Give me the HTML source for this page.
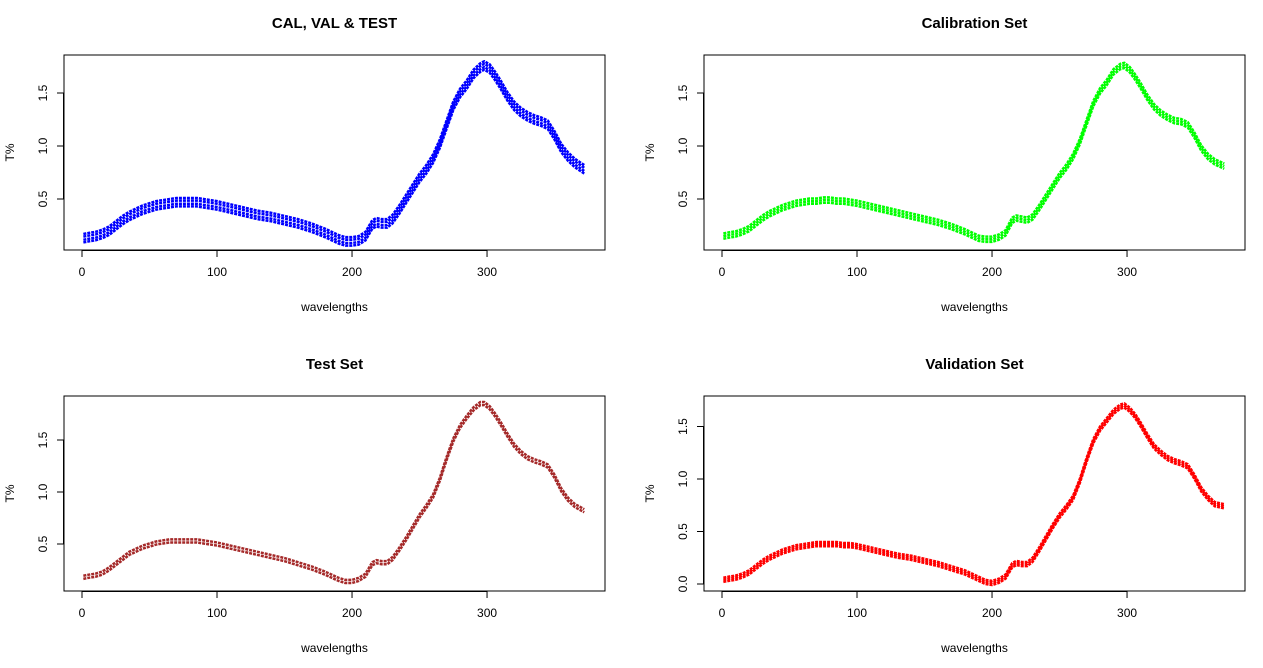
<!DOCTYPE html>
<html><head><meta charset="utf-8"><style>
body{margin:0;background:#fff;}
svg{display:block;font-family:"Liberation Sans",Arial,sans-serif;}
</style></head><body>
<svg id="c" width="1263" height="668"></svg>
<script>
const wl = [1,5,10,15,20,25,30,35,40,45,50,55,60,65,70,75,80,85,90,95,100,110,120,130,140,150,160,170,180,190,195,200,205,210,215,218,222,226,230,235,240,245,250,255,260,265,270,275,280,285,290,295,298,302,306,310,315,320,325,330,335,340,345,350,355,360,365,372];
const blueVals = [0.13,0.14,0.15,0.17,0.20,0.25,0.30,0.34,0.37,0.40,0.42,0.44,0.45,0.46,0.47,0.47,0.47,0.47,0.46,0.45,0.44,0.41,0.38,0.35,0.33,0.30,0.27,0.23,0.18,0.12,0.10,0.10,0.11,0.15,0.26,0.28,0.27,0.27,0.31,0.40,0.50,0.60,0.70,0.78,0.88,1.02,1.20,1.38,1.50,1.58,1.68,1.74,1.76,1.73,1.66,1.58,1.47,1.38,1.32,1.28,1.25,1.23,1.20,1.10,0.98,0.90,0.84,0.78];
const greenVals = [0.15,0.16,0.17,0.19,0.22,0.27,0.32,0.36,0.39,0.42,0.44,0.46,0.47,0.48,0.48,0.49,0.49,0.48,0.48,0.47,0.46,0.43,0.40,0.37,0.34,0.31,0.28,0.24,0.19,0.13,0.12,0.12,0.14,0.18,0.30,0.32,0.31,0.30,0.33,0.42,0.52,0.62,0.72,0.80,0.90,1.04,1.22,1.40,1.52,1.60,1.70,1.75,1.76,1.72,1.65,1.57,1.46,1.37,1.31,1.27,1.24,1.23,1.20,1.10,0.98,0.90,0.85,0.81];
const brownVals = [0.18,0.19,0.20,0.22,0.26,0.31,0.36,0.41,0.44,0.47,0.49,0.51,0.52,0.53,0.53,0.53,0.53,0.53,0.52,0.51,0.50,0.47,0.44,0.41,0.38,0.35,0.31,0.27,0.22,0.16,0.14,0.14,0.16,0.20,0.31,0.33,0.32,0.32,0.36,0.45,0.55,0.66,0.77,0.86,0.96,1.12,1.32,1.50,1.63,1.72,1.80,1.85,1.85,1.81,1.74,1.66,1.55,1.45,1.38,1.33,1.30,1.28,1.25,1.15,1.02,0.93,0.87,0.82];
const redVals = [0.04,0.05,0.06,0.08,0.11,0.16,0.21,0.25,0.28,0.31,0.33,0.35,0.36,0.37,0.38,0.38,0.38,0.38,0.37,0.37,0.36,0.33,0.30,0.27,0.25,0.22,0.19,0.15,0.11,0.05,0.02,0.01,0.03,0.07,0.18,0.20,0.19,0.19,0.23,0.33,0.44,0.55,0.65,0.73,0.82,0.98,1.18,1.36,1.48,1.56,1.64,1.69,1.70,1.66,1.60,1.52,1.41,1.31,1.25,1.20,1.17,1.15,1.12,1.02,0.90,0.82,0.76,0.74];
const xTicks = [0,100,200,300];
const yTicksA = [0.5,1.0,1.5];
const yTicksB = [0.0,0.5,1.0,1.5];

const svg = document.getElementById('c');
const NS = 'http://www.w3.org/2000/svg';
function mk(tag, attrs, parent){const e=document.createElementNS(NS,tag);for(const k in attrs)e.setAttribute(k,attrs[k]);(parent||svg).appendChild(e);return e;}

const panels = [
 {name:'cal-val-test', title:'CAL, VAL & TEST', vals:blueVals, color:'#0000ff', offs:[-0.04,-0.015,0.015,0.04], box:[64,55,605,250], y0:0.5, y0px:199, ypu:106, ticks:yTicksA},
 {name:'calibration', title:'Calibration Set', vals:greenVals, color:'#00ff00', offs:[-0.025,0,0.025], box:[704,55,1245,250], y0:0.5, y0px:199, ypu:106, ticks:yTicksA},
 {name:'test', title:'Test Set', vals:brownVals, color:'#a52a2a', offs:[-0.015,0.015], box:[64,396,605,591], y0:0.5, y0px:544, ypu:104, ticks:yTicksA},
 {name:'validation', title:'Validation Set', vals:redVals, color:'#ff0000', offs:[-0.02,0,0.02], box:[704,396,1245,591], y0:0.0, y0px:584, ypu:105, ticks:yTicksB}
];

panels.forEach(p=>{
  const [l,t,r,b]=p.box;
  const g = mk('g',{});
  
  
  const sx = v => l + 18 + v*(r-l)/400.7;
  const sy = v => p.y0px - (v-p.y0)*p.ypu;
  const ttl = mk('text',{x:(l+r)/2,y:t-27,'text-anchor':'middle','font-size':15,'font-weight':'bold'},g);
  ttl.textContent = p.title;
  
  
  const sg = mk('g',{},g);
  
  
  p.offs.forEach(o=>{
    const pts = wl.map((w,i)=>sx(w)+','+sy(p.vals[i]+o)).join(' ');
    mk('polyline',{points:pts,fill:'none',stroke:p.color,'stroke-width':2.5,'stroke-dasharray':'3 1','stroke-linejoin':'round'},sg);
  });
  const bx = mk('rect',{x:l,y:t,width:r-l,height:b-t,fill:'none',stroke:'#000','stroke-width':1},g);
  
  
  const xa = mk('g',{},g);
  
  
  mk('line',{x1:sx(xTicks[0]),x2:sx(xTicks[xTicks.length-1]),y1:b+0.5,y2:b+0.5,stroke:'#000'},xa);
  xTicks.forEach(v=>{
    mk('line',{x1:sx(v),x2:sx(v),y1:b,y2:b+7,stroke:'#000'},xa);
    const tx = mk('text',{x:sx(v),y:b+26,'text-anchor':'middle','font-size':12},xa);
    tx.textContent = v;
  });
  const xl = mk('text',{x:(l+r)/2,y:b+61,'text-anchor':'middle','font-size':12},g);
  xl.textContent='wavelengths';
  
  
  const ya = mk('g',{},g);
  
  
  mk('line',{x1:l-0.5,x2:l-0.5,y1:sy(p.ticks[0]),y2:sy(p.ticks[p.ticks.length-1]),stroke:'#000'},ya);
  p.ticks.forEach(v=>{
    mk('line',{x1:l-7,x2:l,y1:sy(v),y2:sy(v),stroke:'#000'},ya);
    const tx = mk('text',{x:l-17,y:sy(v),'text-anchor':'middle','font-size':12,transform:`rotate(-90 ${l-17} ${sy(v)})`},ya);
    tx.textContent = v.toFixed(1);
  });
  const yl = mk('text',{x:l-50,y:(t+b)/2,'text-anchor':'middle','font-size':12,transform:`rotate(-90 ${l-50} ${(t+b)/2})`},g);
  yl.textContent='T%';
  
  
});
</script>
</body></html>
